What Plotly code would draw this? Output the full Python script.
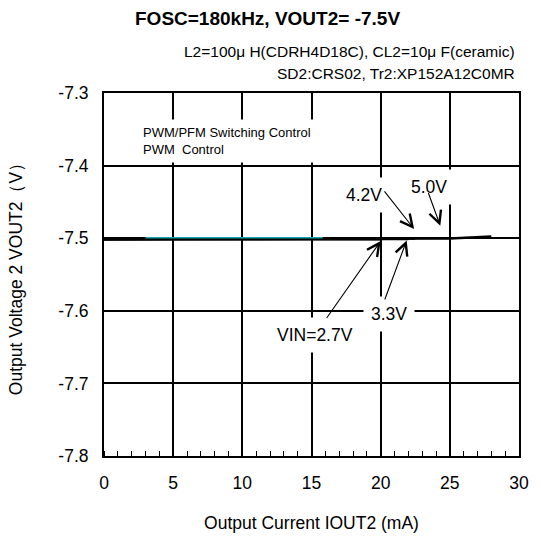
import plotly.graph_objects as go

# ---- data ----
vin_labels = ["VIN=2.7V", "3.3V", "4.2V", "5.0V"]
x_27 = [0, 2, 5, 10, 15, 20]
y_27 = [-7.5018, -7.5015, -7.5015, -7.5015, -7.5015, -7.5015]
x_33 = [0, 2, 5, 10, 15, 20, 22]
y_33 = [-7.5012, -7.5010, -7.5010, -7.5010, -7.5010, -7.5010, -7.5010]
x_42 = [0, 2, 5, 10, 15, 20, 22.5]
y_42 = [-7.5006, -7.5005, -7.5005, -7.5005, -7.5005, -7.5005, -7.5005]
x_50 = [0, 2, 5, 10, 15, 20, 25, 28]
y_50 = [-7.5014, -7.5012, -7.5010, -7.5010, -7.5009, -7.5008, -7.5005, -7.4975]
x_pwm = [3, 5, 10, 15.8]
y_pwm = [-7.4995, -7.4995, -7.4995, -7.4995]

x_tick_vals = [0, 5, 10, 15, 20, 25, 30]
x_tick_text = ["0", "5", "10", "15", "20", "25", "30"]
y_tick_vals = [-7.8, -7.7, -7.6, -7.5, -7.4, -7.3]
y_tick_text = ["-7.8", "-7.7", "-7.6", "-7.5", "-7.4", "-7.3"]

# label positions (text) and arrows (tail -> head), in data units
label_xy = [(15.25, -7.634), (20.6, -7.6045), (18.83, -7.440), (23.48, -7.429)]
arrow_tail = [(16.02, -7.612), (20.26, -7.5865), (20.19, -7.4334), (23.41, -7.4356)]
arrow_head = [(20.0, -7.504), (21.88, -7.5031), (22.42, -7.4874), (24.31, -7.4829)]

FONT = "Liberation Sans, Arial, sans-serif"

fig = go.Figure()
for xs, ys in [(x_27, y_27), (x_33, y_33), (x_42, y_42), (x_50, y_50)]:
    fig.add_trace(go.Scatter(x=xs, y=ys, mode="lines",
                             line=dict(color="black", width=2.5), showlegend=False))
fig.add_trace(go.Scatter(x=x_pwm, y=y_pwm, mode="lines",
                         line=dict(color="#17a3ad", width=1.5), showlegend=False))

annotations = []
# header texts
annotations.append(dict(text="<b>FOSC=180kHz, VOUT2= -7.5V</b>", xref="paper", yref="paper",
                        x=0.395, y=1.0, yshift=75, xanchor="center", yanchor="middle",
                        showarrow=False, font=dict(size=19, color="black", family=FONT)))
annotations.append(dict(text="L2=100\u03bc H(CDRH4D18C), CL2=10\u03bc F(ceramic)", xref="paper", yref="paper",
                        x=1.0, y=1.0, yshift=42, xshift=-2, xanchor="right", yanchor="middle",
                        showarrow=False, font=dict(size=15.5, color="black", family=FONT)))
annotations.append(dict(text="SD2:CRS02, Tr2:XP152A12C0MR", xref="paper", yref="paper",
                        x=1.0, y=1.0, yshift=20, xshift=-2, xanchor="right", yanchor="middle",
                        showarrow=False, font=dict(size=15.5, color="black", family=FONT)))
# control mode notes
annotations.append(dict(text="PWM/PFM Switching Control<br>PWM  Control", x=2.4, y=-7.3655,
                        xanchor="left", yanchor="middle", align="left", showarrow=False,
                        bgcolor="white", borderpad=5,
                        font=dict(size=13, color="black", family=FONT)))
# VIN labels
for lab, (lx, ly) in zip(vin_labels, label_xy):
    annotations.append(dict(text=lab, x=lx, y=ly, xanchor="center", yanchor="middle",
                            showarrow=False, bgcolor="white", borderpad=7,
                            font=dict(size=17.5, color="black", family=FONT)))
# arrows
for (tx, ty), (hx, hy) in zip(arrow_tail, arrow_head):
    annotations.append(dict(text="", x=hx, y=hy, ax=tx, ay=ty, xref="x", yref="y",
                            axref="x", ayref="y", showarrow=True, arrowhead=5,
                            arrowsize=2.2, arrowwidth=1.1, arrowcolor="black"))

fig.update_layout(
    width=541, height=542,
    margin=dict(l=104, r=12, t=93, b=79),
    paper_bgcolor="white", plot_bgcolor="white",
    font=dict(family=FONT, color="black", size=17.5),
    annotations=annotations,
    showlegend=False,
)
fig.update_xaxes(range=[0, 30], tickvals=x_tick_vals, ticktext=x_tick_text,
                 showgrid=True, gridcolor="black", gridwidth=1.5,
                 showline=True, linecolor="black", linewidth=2, mirror=True,
                 ticks="", zeroline=False, tickfont=dict(size=17.5), ticklabelstandoff=10,
                 minor=dict(dtick=1, ticks="inside", ticklen=5, tickcolor="black", tickwidth=1, showgrid=False),
                 title=dict(text="Output Current IOUT2 (mA)", font=dict(size=17.5), standoff=25))
fig.update_yaxes(range=[-7.8, -7.3], tickvals=y_tick_vals, ticktext=y_tick_text,
                 showgrid=True, gridcolor="black", gridwidth=1.5,
                 showline=True, linecolor="black", linewidth=2, mirror=True,
                 ticks="", zeroline=False, tickfont=dict(size=17.5), ticklabelstandoff=10,
                 title=dict(text="Output Voltage 2 VOUT2（V）", font=dict(size=17.5), standoff=31))

fig.write_html("out.html", config={"displayModeBar": False, "staticPlot": False},
               post_script="document.body.style.margin='0';document.body.style.overflow='hidden';")
